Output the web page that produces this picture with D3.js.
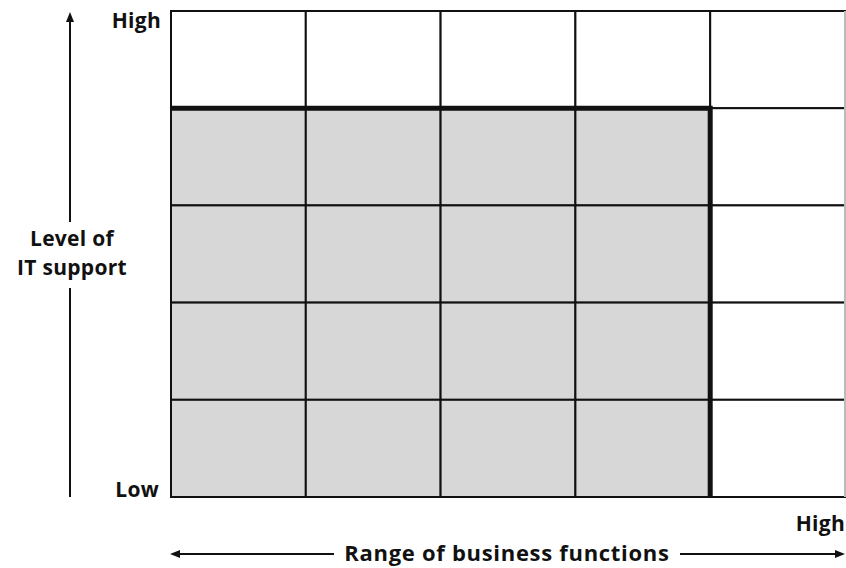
<!DOCTYPE html>
<html>
<head>
<meta charset="utf-8">
<script src="https://cdn.jsdelivr.net/npm/d3@7"></script>
<style>
  body { margin: 0; background: #fff; }
  text { font-family: "Open Sans", sans-serif; font-weight: 700; fill: #111; letter-spacing: 0.3px; }
</style>
</head>
<body>
<div id="chart"></div>
<script>
// grid categories (columns = range of business functions, rows = level of IT support)
const functionCols = ["f1", "f2", "f3", "f4", "f5"];
const supportRows = ["s5", "s4", "s3", "s2", "s1"]; // top to bottom
// 1 = shaded (supported) cell, top row first
const cellShade = [
  [0, 0, 0, 0, 0],
  [1, 1, 1, 1, 0],
  [1, 1, 1, 1, 0],
  [1, 1, 1, 1, 0],
  [1, 1, 1, 1, 0]
];
const yLabels = { high: "High", low: "Low", title: ["Level of", "IT support"] };
const xLabels = { high: "High", title: "Range of business functions" };

const width = 846;
const height = 568;
const marginTop = 11;
const marginRight = 1;
const marginBottom = 71;
const marginLeft = 171;
const fontSize = 21;

const svg = d3.select("#chart")
  .append("svg")
  .attr("width", width)
  .attr("height", height)
  .attr("viewBox", [0, 0, width, height]);

const x = d3.scaleBand(functionCols, [marginLeft, width - marginRight]);
const y = d3.scaleBand(supportRows, [marginTop, height - marginBottom]);

const cells = [];
cellShade.forEach((row, i) => row.forEach((v, j) => {
  cells.push({ col: functionCols[j], row: supportRows[i], shaded: v === 1 });
}));

// cells
svg.append("g")
  .selectAll("rect")
  .data(cells)
  .join("rect")
  .attr("x", d => x(d.col))
  .attr("y", d => y(d.row))
  .attr("width", x.bandwidth())
  .attr("height", y.bandwidth())
  .attr("fill", d => d.shaded ? "#d7d7d7" : "#fff")
  .attr("stroke", "#111")
  .attr("stroke-width", 2);

// light right edge like the original
svg.append("line")
  .attr("x1", width - marginRight).attr("x2", width - marginRight)
  .attr("y1", marginTop).attr("y2", height - marginBottom)
  .attr("stroke", "#bbb").attr("stroke-width", 2);

// thick outline of the shaded block (top + right)
const shadedCols = functionCols.filter((c, j) => cellShade.some(r => r[j] === 1));
const shadedRows = supportRows.filter((r, i) => cellShade[i].some(v => v === 1));
const bx0 = x(shadedCols[0]);
const bx1 = x(shadedCols[shadedCols.length - 1]) + x.bandwidth();
const by0 = y(shadedRows[0]);
const by1 = y(shadedRows[shadedRows.length - 1]) + y.bandwidth();
svg.append("path")
  .attr("d", `M${bx0},${by0} L${bx1},${by0} L${bx1},${by1}`)
  .attr("fill", "none")
  .attr("stroke", "#111")
  .attr("stroke-width", 5);

// arrow head helper (tip at x,y pointing in dir)
function head(tx, ty, dir) {
  const L = 10, W = 4;
  let d;
  if (dir === "up") d = `M${tx},${ty} L${tx - W},${ty + L} L${tx + W},${ty + L} Z`;
  if (dir === "left") d = `M${tx},${ty} L${tx + L},${ty - W} L${tx + L},${ty + W} Z`;
  if (dir === "right") d = `M${tx},${ty} L${tx - L},${ty - W} L${tx - L},${ty + W} Z`;
  svg.append("path").attr("d", d).attr("fill", "#111");
}

// y axis arrow + labels
const axX = 70;
svg.append("line")
  .attr("x1", axX).attr("x2", axX)
  .attr("y1", 222).attr("y2", 20)
  .attr("stroke", "#111").attr("stroke-width", 2);
head(axX, 12, "up");
svg.append("line")
  .attr("x1", axX).attr("x2", axX)
  .attr("y1", 288).attr("y2", height - marginBottom)
  .attr("stroke", "#111").attr("stroke-width", 2);

svg.append("text")
  .attr("x", marginLeft - 10).attr("y", 28)
  .attr("text-anchor", "end").attr("font-size", fontSize)
  .text(yLabels.high);
svg.append("text")
  .attr("x", marginLeft - 12).attr("y", height - marginBottom)
  .attr("text-anchor", "end").attr("font-size", fontSize)
  .text(yLabels.low);
svg.append("text")
  .attr("text-anchor", "middle").attr("font-size", fontSize)
  .selectAll("tspan")
  .data(yLabels.title)
  .join("tspan")
  .attr("x", axX + 2)
  .attr("y", (d, i) => 246 + i * 29)
  .text(d => d);

// x axis arrow + labels
svg.append("text")
  .attr("x", width - 1).attr("y", 531)
  .attr("text-anchor", "end").attr("font-size", fontSize)
  .text(xLabels.high);
svg.append("text")
  .attr("x", 507).attr("y", 561)
  .attr("text-anchor", "middle").attr("font-size", 22)
  .style("letter-spacing", "0.7px")
  .text(xLabels.title);
svg.append("line")
  .attr("x1", 334).attr("x2", 178)
  .attr("y1", 554).attr("y2", 554)
  .attr("stroke", "#111").attr("stroke-width", 2);
head(170, 554, "left");
svg.append("line")
  .attr("x1", 680).attr("x2", 836)
  .attr("y1", 554).attr("y2", 554)
  .attr("stroke", "#111").attr("stroke-width", 2);
head(845, 554, "right");
</script>
</body>
</html>
